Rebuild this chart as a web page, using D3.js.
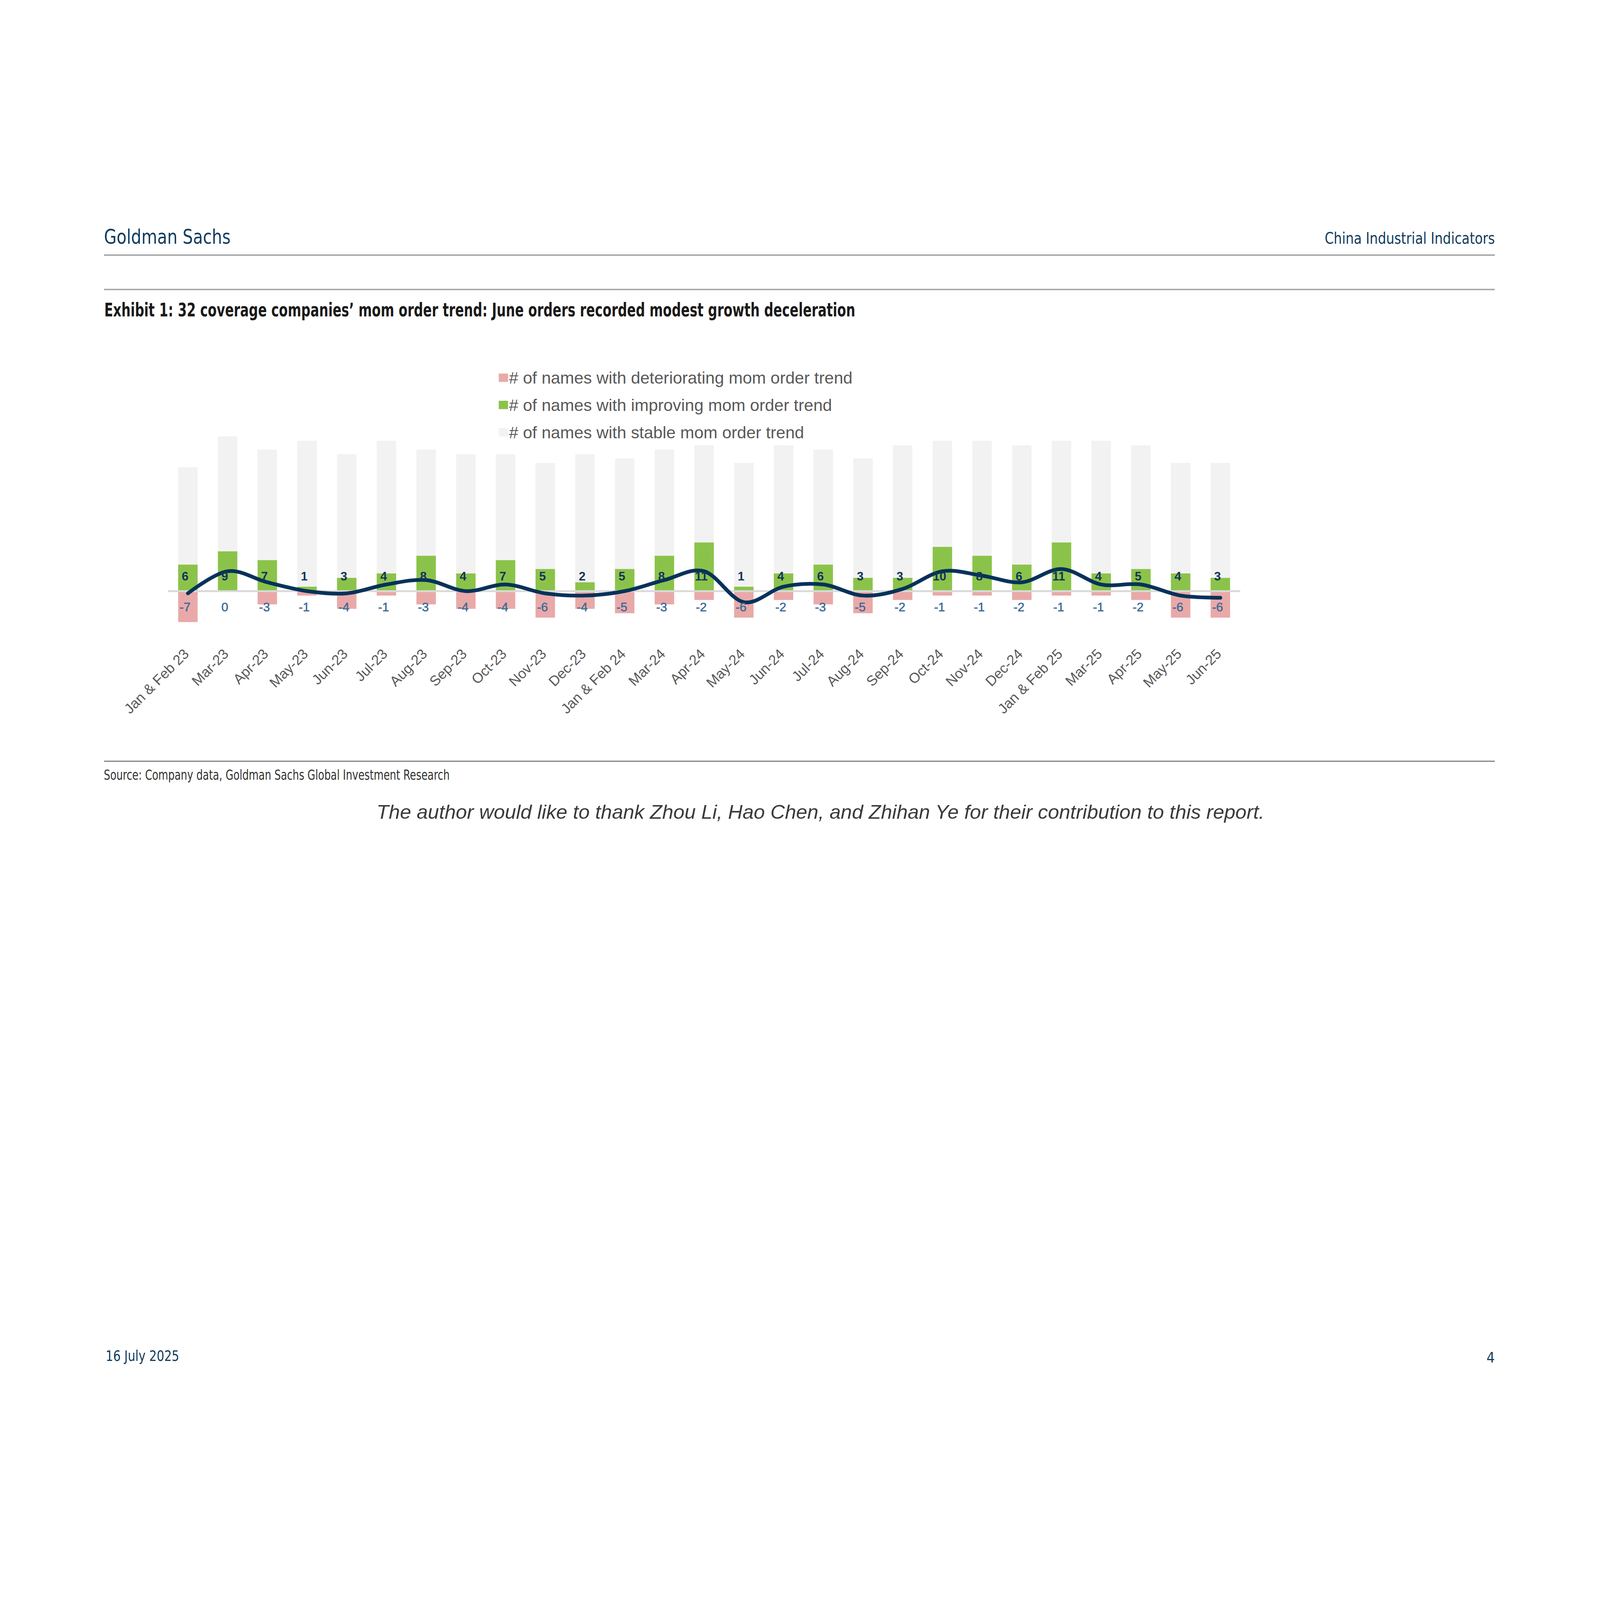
<!DOCTYPE html>
<html><head><meta charset="utf-8">
<script src="https://cdn.jsdelivr.net/npm/d3@7"></script>
<style>html,body{margin:0;padding:0;background:#fff;width:100%;height:100%;overflow:hidden;} svg{display:block;width:100vw;height:100vh;}</style>
</head><body>
<svg id="chart" viewBox="0 0 6875 5313" preserveAspectRatio="xMidYMid meet"></svg>
<script>
// ---- data ----
const categories = ["Jan & Feb 23","Mar-23","Apr-23","May-23","Jun-23","Jul-23","Aug-23","Sep-23","Oct-23","Nov-23","Dec-23","Jan & Feb 24","Mar-24","Apr-24","May-24","Jun-24","Jul-24","Aug-24","Sep-24","Oct-24","Nov-24","Dec-24","Jan & Feb 25","Mar-25","Apr-25","May-25","Jun-25"];
const improving = [6,9,7,1,3,4,8,4,7,5,2,5,8,11,1,4,6,3,3,10,8,6,11,4,5,4,3];
const deteriorating = [-7,0,-3,-1,-4,-1,-3,-4,-4,-6,-4,-5,-3,-2,-6,-2,-3,-5,-2,-1,-1,-2,-1,-1,-2,-6,-6];
const stable = [22,26,25,33,28,30,24,27,24,24,29,25,24,22,28,29,26,27,30,24,26,27,23,30,28,25,26];
const trend = [-0.5,4.5,2,0,-0.5,1.5,2.5,0,1.5,-0.5,-1,0,2.5,4.5,-2.5,1,1.5,-1,0.5,4.5,3.5,2,5,1.5,1.5,-1,-1.5];
const legendLabels = ["# of names with deteriorating mom order trend","# of names with improving mom order trend","# of names with stable mom order trend"];

// ---- styles ----
const C = {green:"#8bc34a", pink:"#e9a9a9", gray:"#f2f2f2", zero:"#d9d9d9", line:"#05325a",
           posLab:"#14345a", negLab:"#3a6b96", axis:"#595959", navy:"#113c5e"};
const condensed = "'Liberation Sans Narrow','DejaVu Sans Condensed','Roboto Condensed','Liberation Sans',sans-serif";
const sans = "'Liberation Sans',Arial,Helvetica,sans-serif";

const svg = d3.select("#chart");
svg.append("rect").attr("width",6875).attr("height",5313).attr("fill","#fff");

// ---- page header ----
function txt(t, x, y, o){
  const e = svg.append("text").attr("x",x).attr("y",y).text(t)
    .attr("font-family", o.family||condensed).attr("font-size", o.size)
    .attr("fill", o.fill||"#000").attr("font-weight", o.weight||"normal")
    .attr("text-anchor", o.anchor||"start");
  if (o.stretch) e.style("font-stretch","condensed");
  if (o.italic) e.attr("font-style","italic");
  if (o.len) e.attr("textLength", o.len).attr("lengthAdjust","spacingAndGlyphs");
  return e;
}
txt("Goldman Sachs", 447, 267, {size:86, fill:C.navy, stretch:1, len:544});
txt("China Industrial Indicators", 6423, 267, {size:68, fill:C.navy, anchor:"end", stretch:1, len:731});
svg.append("line").attr("x1",447).attr("x2",6423).attr("y1",315).attr("y2",315).attr("stroke","#808080").attr("stroke-width",4);
svg.append("line").attr("x1",447).attr("x2",6423).attr("y1",463).attr("y2",463).attr("stroke","#aaaaaa").attr("stroke-width",6);
txt("Exhibit 1: 32 coverage companies\u2019 mom order trend: June orders recorded modest growth deceleration", 448, 578, {size:80, weight:"bold", fill:"#1a1a1a", stretch:1, len:3227});

// ---- chart scales ----
const x = d3.scaleBand().domain(categories).range([722, 5329]).paddingInner(0.51).paddingOuter(0.255);
const zeroY = 1759, unit = 19.0;
const y = d3.scaleLinear().domain([-8, 36]).range([zeroY + 8*unit, zeroY - 36*unit]);
const bw = x.bandwidth();

const rows = categories.map((c,i)=>({c, imp:improving[i], det:deteriorating[i], st:stable[i], tr:trend[i]}));

const g = svg.append("g");
g.selectAll(".st").data(rows).join("rect").attr("class","st")
  .attr("x", d=>x(d.c)).attr("width", bw)
  .attr("y", d=>y(d.imp + d.st)).attr("height", d=>y(d.imp) - y(d.imp + d.st))
  .attr("fill", C.gray);
g.selectAll(".imp").data(rows).join("rect").attr("class","imp")
  .attr("x", d=>x(d.c)).attr("width", bw)
  .attr("y", d=>y(d.imp)).attr("height", d=>y(0) - y(d.imp))
  .attr("fill", C.green);
g.selectAll(".det").data(rows).join("rect").attr("class","det")
  .attr("x", d=>x(d.c)).attr("width", bw)
  .attr("y", y(0)).attr("height", d=>y(d.det) - y(0))
  .attr("fill", C.pink);

g.append("line").attr("x1",722).attr("x2",5329).attr("y1",y(0)).attr("y2",y(0))
  .attr("stroke",C.zero).attr("stroke-width",8);

const line = d3.line().x(d=>x(d.c)+bw/2).y(d=>y(d.tr)).curve(d3.curveCatmullRom.alpha(0));
g.append("path").datum(rows).attr("d", line).attr("fill","none")
  .attr("stroke", C.line).attr("stroke-width", 16).attr("stroke-linecap","round").attr("stroke-linejoin","round");

g.selectAll(".pl").data(rows).join("text").attr("class","pl")
  .attr("x", d=>x(d.c)+bw/2-12).attr("y", 1713).attr("text-anchor","middle")
  .attr("font-family", sans).attr("font-size",52).attr("font-weight","bold").attr("fill",C.posLab)
  .text(d=>d.imp);
g.selectAll(".nl").data(rows).join("text").attr("class","nl")
  .attr("x", d=>x(d.c)+bw/2-12).attr("y", 1845).attr("text-anchor","middle")
  .attr("font-family", sans).attr("font-size",53).attr("font-weight","normal").attr("fill",C.negLab)
  .attr("stroke",C.negLab).attr("stroke-width",1.2)
  .text(d=>d.det);

const ax = svg.append("g").attr("transform","translate(0,2033)")
  .call(d3.axisBottom(x).tickSize(0).tickPadding(0));
ax.select(".domain").remove();
ax.selectAll("text").attr("x",0).attr("y",0).attr("dy",0)
  .attr("transform","translate(8,0) rotate(-45)").style("text-anchor","end")
  .attr("font-family", sans).attr("font-size",61).attr("fill",C.axis);

const legColors = [C.pink, C.green, C.gray];
const leg = svg.append("g");
legendLabels.forEach((t,i)=>{
  const cy = 842 + i*117;
  leg.append("rect").attr("x",2143).attr("y",cy-18).attr("width",40).attr("height",36).attr("fill",legColors[i]);
  leg.append("text").attr("x",2187).attr("y",cy+26).text(t)
    .attr("font-family", sans).attr("font-size",72).attr("fill",C.axis);
});

svg.append("line").attr("x1",447).attr("x2",6423).attr("y1",2490).attr("y2",2490).attr("stroke","#6d6d6d").attr("stroke-width",4);
txt("Source: Company data, Goldman Sachs Global Investment Research", 446, 2570, {size:60, fill:"#333", stretch:1, len:1486});
txt("The author would like to thank Zhou Li, Hao Chen, and Zhihan Ye for their contribution to this report.", 1618, 2737, {size:84, fill:"#3a3a3a", family:sans, italic:1, len:3815});
txt("16 July 2025", 454, 5067, {size:62, fill:C.navy, stretch:1, len:316});
txt("4", 6423, 5073, {size:62, fill:C.navy, anchor:"end", stretch:1});
</script>
</body></html>
